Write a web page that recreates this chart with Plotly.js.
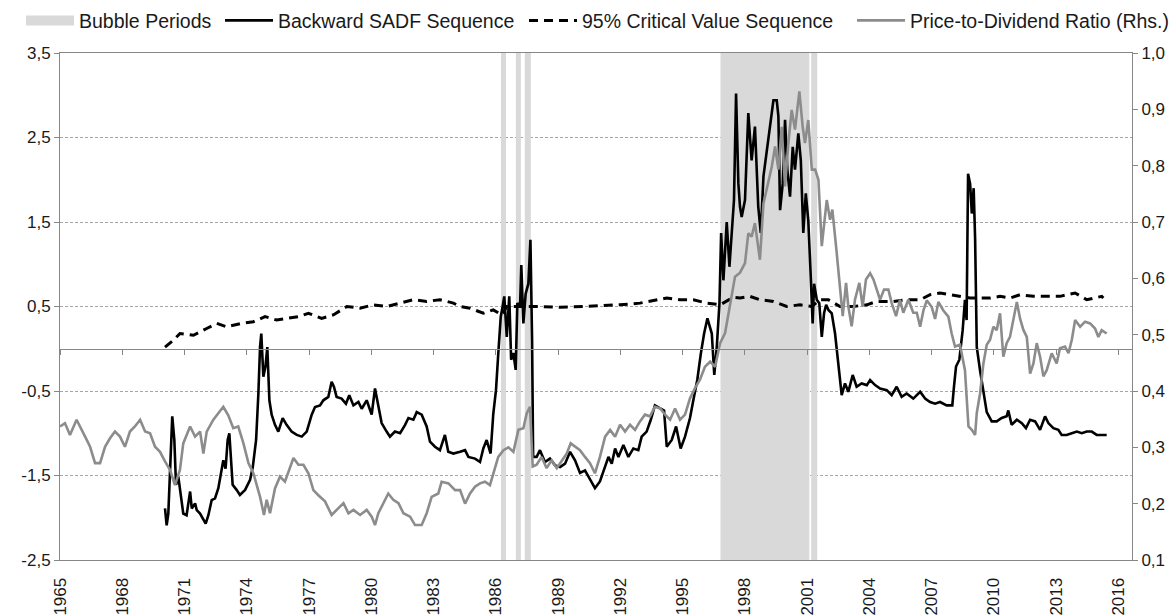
<!DOCTYPE html>
<html><head><meta charset="utf-8">
<script src="https://cdn.plot.ly/plotly-3.0.1.min.js"></script>
<style>html,body{margin:0;padding:0;background:#fff;}</style>
</head><body>
<div id="chart" style="width:1173px;height:616px;"></div>
<script>
// ---- tick labels ----
const yearTicks = [1965,1968,1971,1974,1977,1980,1983,1986,1989,1992,1995,1998,2001,2004,2007,2010,2013,2016];
const yearLabels = ['1965','1968','1971','1974','1977','1980','1983','1986','1989','1992','1995','1998','2001','2004','2007','2010','2013','2016'];
const leftTicks = [-2.5,-1.5,-0.5,0.5,1.5,2.5,3.5];
const leftLabels = ['-2,5','-1,5','-0,5','0,5','1,5','2,5','3,5'];
const rightTicks = [0.1,0.2,0.3,0.4,0.5,0.6,0.7,0.8,0.9,1.0];
const rightLabels = ['0,1','0,2','0,3','0,4','0,5','0,6','0,7','0,8','0,9','1,0'];

// ---- bubble periods (start / end, decimal years) ----
const bubbleStart = [1986.25, 1986.97, 1987.40, 1996.83, 2001.20];
const bubbleEnd   = [1986.49, 1987.21, 1987.69, 2001.11, 2001.49];

// ---- Backward SADF sequence [year, value] ----
const sadf = [[1970.06,-1.89],[1970.14,-2.09],[1970.22,-1.95],[1970.30,-1.47],[1970.41,-0.80],[1970.51,-1.08],[1970.59,-1.61],[1970.70,-1.51],[1970.82,-1.75],[1970.94,-1.95],[1971.10,-1.97],[1971.27,-1.69],[1971.35,-1.89],[1971.51,-1.83],[1971.59,-1.91],[1971.75,-1.95],[1972.02,-2.07],[1972.15,-1.97],[1972.31,-1.79],[1972.47,-1.77],[1972.63,-1.65],[1972.87,-1.32],[1972.98,-1.42],[1973.08,-1.08],[1973.16,-1.00],[1973.24,-1.32],[1973.32,-1.61],[1973.51,-1.67],[1973.67,-1.73],[1973.92,-1.67],[1974.16,-1.55],[1974.29,-1.40],[1974.45,-1.08],[1974.56,-0.53],[1974.64,0.02],[1974.70,0.18],[1974.80,-0.33],[1974.90,-0.21],[1974.99,0.02],[1975.09,-0.61],[1975.20,-0.78],[1975.36,-0.90],[1975.52,-0.98],[1975.73,-0.82],[1975.92,-0.90],[1976.16,-0.98],[1976.41,-1.02],[1976.65,-1.04],[1976.89,-0.98],[1977.13,-0.78],[1977.29,-0.69],[1977.53,-0.67],[1977.69,-0.61],[1977.93,-0.57],[1978.09,-0.39],[1978.20,-0.45],[1978.33,-0.57],[1978.57,-0.59],[1978.78,-0.65],[1978.94,-0.55],[1979.14,-0.67],[1979.38,-0.63],[1979.54,-0.71],[1979.78,-0.61],[1980.02,-0.78],[1980.18,-0.47],[1980.34,-0.69],[1980.50,-0.88],[1980.74,-0.98],[1980.90,-1.04],[1981.14,-0.98],[1981.39,-1.00],[1981.63,-0.90],[1981.79,-0.82],[1982.03,-0.84],[1982.19,-0.75],[1982.43,-0.78],[1982.67,-0.92],[1982.83,-1.10],[1983.07,-1.16],[1983.31,-1.20],[1983.55,-1.02],[1983.71,-1.22],[1983.96,-1.24],[1984.28,-1.22],[1984.52,-1.20],[1984.68,-1.28],[1985.00,-1.30],[1985.24,-1.34],[1985.40,-1.18],[1985.56,-1.08],[1985.75,-1.24],[1985.88,-0.77],[1986.01,-0.49],[1986.12,-0.06],[1986.24,0.38],[1986.33,0.50],[1986.41,0.62],[1986.53,0.14],[1986.65,0.62],[1986.74,-0.13],[1986.85,-0.05],[1986.96,-0.25],[1987.04,0.54],[1987.17,0.50],[1987.23,0.99],[1987.33,0.30],[1987.44,0.65],[1987.57,0.77],[1987.67,1.29],[1987.75,0.10],[1987.80,-1.28],[1987.97,-1.28],[1988.13,-1.20],[1988.37,-1.34],[1988.61,-1.30],[1988.86,-1.38],[1989.10,-1.40],[1989.34,-1.36],[1989.58,-1.22],[1989.82,-1.32],[1990.06,-1.47],[1990.30,-1.44],[1990.54,-1.55],[1990.78,-1.65],[1991.02,-1.57],[1991.27,-1.40],[1991.43,-1.28],[1991.59,-1.36],[1991.75,-1.18],[1991.91,-1.28],[1992.15,-1.14],[1992.39,-1.28],[1992.63,-1.18],[1992.87,-1.20],[1993.03,-1.04],[1993.27,-0.98],[1993.47,-0.84],[1993.67,-0.67],[1993.92,-0.71],[1994.11,-0.73],[1994.24,-1.16],[1994.48,-1.08],[1994.69,-0.92],[1994.91,-1.18],[1995.12,-1.04],[1995.36,-0.82],[1995.52,-0.61],[1995.71,-0.37],[1995.88,-0.06],[1996.04,0.18],[1996.20,0.36],[1996.41,0.18],[1996.53,-0.31],[1996.65,0.02],[1996.78,0.54],[1996.86,1.37],[1996.97,0.81],[1997.13,1.50],[1997.26,0.97],[1997.37,1.41],[1997.48,1.76],[1997.58,3.02],[1997.69,1.96],[1997.77,1.68],[1997.85,1.56],[1998.01,1.76],[1998.17,2.79],[1998.33,2.23],[1998.49,2.63],[1998.65,1.68],[1998.77,1.37],[1998.90,2.04],[1999.06,2.35],[1999.22,2.63],[1999.38,2.94],[1999.54,2.94],[1999.62,2.75],[1999.70,1.64],[1999.83,1.96],[1999.94,2.71],[2000.05,2.12],[2000.18,1.80],[2000.31,2.39],[2000.42,2.12],[2000.58,2.55],[2000.70,2.23],[2000.82,1.37],[2000.94,1.84],[2001.06,1.52],[2001.18,0.85],[2001.27,0.30],[2001.34,0.77],[2001.47,0.58],[2001.59,0.54],[2001.71,0.14],[2001.82,0.42],[2001.92,0.52],[2002.03,0.46],[2002.19,0.42],[2002.35,0.18],[2002.51,-0.21],[2002.67,-0.55],[2002.83,-0.41],[2002.99,-0.51],[2003.20,-0.31],[2003.39,-0.45],[2003.63,-0.41],[2003.88,-0.43],[2004.04,-0.37],[2004.28,-0.43],[2004.52,-0.47],[2004.84,-0.49],[2005.08,-0.55],[2005.32,-0.45],[2005.56,-0.57],[2005.80,-0.53],[2006.12,-0.59],[2006.45,-0.51],[2006.69,-0.59],[2006.93,-0.63],[2007.17,-0.65],[2007.41,-0.63],[2007.73,-0.67],[2008.00,-0.67],[2008.08,-0.45],[2008.18,-0.21],[2008.34,-0.13],[2008.50,0.22],[2008.61,0.58],[2008.69,0.34],[2008.76,2.07],[2008.86,1.95],[2008.94,1.60],[2009.03,1.90],[2009.10,1.30],[2009.18,0.02],[2009.34,-0.26],[2009.50,-0.49],[2009.66,-0.75],[2009.90,-0.86],[2010.14,-0.86],[2010.38,-0.82],[2010.62,-0.80],[2010.70,-0.73],[2010.86,-0.90],[2011.11,-0.84],[2011.35,-0.88],[2011.55,-0.94],[2011.75,-0.84],[2011.99,-0.86],[2012.23,-0.96],[2012.47,-0.80],[2012.63,-0.88],[2012.87,-0.94],[2013.11,-0.96],[2013.27,-1.02],[2013.51,-1.02],[2013.76,-1.00],[2014.00,-0.98],[2014.24,-1.00],[2014.48,-0.98],[2014.72,-0.98],[2014.96,-1.02],[2015.20,-1.02],[2015.44,-1.02]];

// ---- 95% critical value sequence [year, value] ----
const critical = [[1970.06,0.02],[1970.46,0.10],[1970.78,0.18],[1971.43,0.16],[1972.07,0.24],[1972.55,0.30],[1973.03,0.26],[1973.76,0.30],[1974.32,0.32],[1974.88,0.38],[1975.44,0.34],[1975.92,0.36],[1976.49,0.38],[1976.97,0.42],[1977.61,0.36],[1978.17,0.40],[1978.82,0.50],[1979.46,0.48],[1980.10,0.52],[1980.74,0.50],[1981.39,0.54],[1982.03,0.58],[1982.67,0.56],[1983.31,0.58],[1983.96,0.54],[1984.28,0.50],[1984.76,0.48],[1985.40,0.42],[1985.88,0.46],[1986.29,0.40],[1986.53,0.50],[1987.49,0.50],[1988.13,0.50],[1989.10,0.49],[1990.06,0.50],[1991.02,0.51],[1991.99,0.52],[1992.95,0.54],[1993.59,0.57],[1994.24,0.60],[1994.88,0.58],[1995.52,0.58],[1996.17,0.54],[1996.81,0.52],[1997.45,0.61],[1997.77,0.60],[1998.25,0.62],[1998.73,0.58],[1999.38,0.56],[2000.02,0.50],[2000.66,0.52],[2001.23,0.50],[2001.63,0.58],[2002.03,0.58],[2002.59,0.50],[2003.23,0.50],[2003.88,0.52],[2004.36,0.56],[2005.16,0.56],[2005.80,0.58],[2006.45,0.58],[2006.93,0.64],[2007.41,0.66],[2007.89,0.64],[2008.37,0.62],[2008.86,0.60],[2009.34,0.60],[2009.82,0.60],[2010.30,0.62],[2010.78,0.60],[2011.27,0.64],[2011.91,0.62],[2012.55,0.62],[2013.19,0.62],[2013.92,0.66],[2014.48,0.58],[2015.20,0.62],[2015.28,0.60]];

// ---- Price-to-dividend ratio (right axis) [year, value] ----
const pdRatio = [[1965.00,0.337],[1965.24,0.343],[1965.48,0.322],[1965.80,0.349],[1966.21,0.319],[1966.45,0.301],[1966.69,0.272],[1966.93,0.272],[1967.17,0.301],[1967.41,0.316],[1967.65,0.328],[1967.89,0.319],[1968.13,0.301],[1968.37,0.328],[1968.61,0.337],[1968.86,0.349],[1969.10,0.328],[1969.34,0.325],[1969.58,0.301],[1969.82,0.292],[1970.06,0.275],[1970.30,0.260],[1970.54,0.233],[1970.78,0.260],[1970.94,0.307],[1971.27,0.337],[1971.51,0.319],[1971.75,0.328],[1971.91,0.289],[1972.07,0.328],[1972.39,0.349],[1972.63,0.360],[1972.87,0.372],[1973.11,0.357],[1973.35,0.334],[1973.59,0.337],[1973.84,0.307],[1974.08,0.272],[1974.32,0.254],[1974.64,0.212],[1974.83,0.180],[1974.96,0.207],[1975.12,0.183],[1975.36,0.227],[1975.60,0.248],[1975.84,0.239],[1976.08,0.266],[1976.25,0.281],[1976.49,0.269],[1976.73,0.269],[1976.97,0.254],[1977.21,0.224],[1977.45,0.215],[1977.77,0.204],[1978.09,0.180],[1978.33,0.189],[1978.66,0.201],[1978.90,0.183],[1979.14,0.189],[1979.46,0.180],[1979.78,0.189],[1980.02,0.177],[1980.18,0.162],[1980.34,0.183],[1980.58,0.201],[1980.82,0.218],[1981.06,0.207],[1981.31,0.201],[1981.55,0.183],[1981.87,0.177],[1982.11,0.162],[1982.43,0.162],[1982.67,0.183],[1982.91,0.212],[1983.23,0.218],[1983.39,0.239],[1983.72,0.236],[1984.04,0.224],[1984.28,0.224],[1984.52,0.200],[1984.76,0.218],[1985.00,0.230],[1985.24,0.236],[1985.48,0.239],[1985.72,0.233],[1985.88,0.254],[1986.12,0.283],[1986.37,0.295],[1986.61,0.300],[1986.85,0.292],[1987.09,0.331],[1987.33,0.334],[1987.49,0.360],[1987.65,0.372],[1987.78,0.266],[1987.97,0.269],[1988.21,0.283],[1988.45,0.263],[1988.69,0.277],[1988.94,0.263],[1989.18,0.275],[1989.42,0.289],[1989.61,0.307],[1989.82,0.301],[1990.06,0.295],[1990.30,0.283],[1990.54,0.272],[1990.78,0.254],[1991.02,0.283],[1991.27,0.319],[1991.51,0.331],[1991.75,0.319],[1991.99,0.340],[1992.23,0.328],[1992.47,0.340],[1992.71,0.331],[1992.95,0.346],[1993.19,0.358],[1993.43,0.355],[1993.67,0.372],[1993.92,0.369],[1994.16,0.358],[1994.40,0.349],[1994.64,0.369],[1994.88,0.349],[1995.12,0.358],[1995.36,0.387],[1995.60,0.405],[1995.84,0.420],[1996.08,0.443],[1996.33,0.452],[1996.57,0.443],[1996.81,0.485],[1997.05,0.503],[1997.29,0.550],[1997.53,0.603],[1997.77,0.610],[1998.01,0.627],[1998.17,0.680],[1998.33,0.674],[1998.49,0.698],[1998.73,0.633],[1998.90,0.733],[1999.14,0.775],[1999.30,0.798],[1999.46,0.834],[1999.62,0.793],[1999.78,0.869],[1999.94,0.763],[2000.10,0.840],[2000.26,0.899],[2000.42,0.864],[2000.63,0.932],[2000.79,0.869],[2000.90,0.840],[2001.06,0.881],[2001.23,0.793],[2001.39,0.793],[2001.55,0.775],[2001.71,0.657],[2001.95,0.739],[2002.11,0.704],[2002.22,0.722],[2002.43,0.645],[2002.59,0.580],[2002.72,0.533],[2002.88,0.592],[2002.99,0.550],[2003.15,0.515],[2003.31,0.562],[2003.52,0.592],[2003.68,0.550],[2003.84,0.598],[2004.04,0.609],[2004.20,0.598],[2004.36,0.580],[2004.52,0.562],[2004.71,0.580],[2004.92,0.580],[2005.08,0.556],[2005.29,0.533],[2005.48,0.562],[2005.64,0.539],[2005.88,0.562],[2006.12,0.539],[2006.29,0.539],[2006.45,0.514],[2006.61,0.543],[2006.77,0.561],[2007.01,0.549],[2007.17,0.528],[2007.33,0.558],[2007.57,0.543],[2007.81,0.532],[2007.97,0.502],[2008.13,0.479],[2008.37,0.482],[2008.61,0.437],[2008.78,0.337],[2008.94,0.331],[2009.10,0.322],[2009.18,0.361],[2009.34,0.396],[2009.50,0.449],[2009.66,0.482],[2009.82,0.491],[2009.98,0.514],[2010.14,0.508],[2010.30,0.538],[2010.46,0.461],[2010.62,0.485],[2010.78,0.496],[2010.94,0.526],[2011.11,0.558],[2011.27,0.528],[2011.43,0.508],[2011.59,0.496],[2011.75,0.431],[2011.91,0.449],[2012.07,0.485],[2012.23,0.461],[2012.39,0.426],[2012.55,0.437],[2012.79,0.467],[2013.03,0.449],[2013.19,0.476],[2013.43,0.479],[2013.60,0.467],[2013.76,0.491],[2013.92,0.526],[2014.16,0.514],[2014.40,0.523],[2014.64,0.520],[2014.88,0.511],[2015.04,0.496],[2015.20,0.508],[2015.44,0.502]];

const yMin = leftTicks[0], yMax = leftTicks[leftTicks.length-1];
const xRange = [1965, 2016.66];

const bandX = [], bandY = [];
bubbleStart.forEach((s, i) => {
  const e = bubbleEnd[i];
  bandX.push(s, e, e, s, s, null);
  bandY.push(yMin, yMin, yMax, yMax, yMin, null);
});

const GRAY_BAND = '#d9d9d9';
const AXIS = '#878787';

const traces = [
  {x: bandX, y: bandY, type: 'scatter', mode: 'lines', fill: 'toself', fillcolor: GRAY_BAND,
   line: {width: 0, color: GRAY_BAND}, showlegend: false, hoverinfo: 'skip'},
  {x: [null], y: [null], type: 'scatter', mode: 'lines', name: 'Bubble Periods',
   line: {color: GRAY_BAND, width: 10}, legend: 'legend'},
  {x: sadf.map(p => p[0]), y: sadf.map(p => p[1]), type: 'scatter', mode: 'lines',
   name: 'Backward SADF Sequence', line: {color: '#000', width: 2.6}, legend: 'legend2'},
  {x: critical.map(p => p[0]), y: critical.map(p => p[1]), type: 'scatter', mode: 'lines',
   name: '95% Critical Value Sequence', line: {color: '#000', width: 3, dash: '9px,6px'}, legend: 'legend3'},
  {x: pdRatio.map(p => p[0]), y: pdRatio.map(p => p[1]), type: 'scatter', mode: 'lines',
   name: 'Price-to-Dividend Ratio (Rhs.)', yaxis: 'y2', line: {color: '#8c8c8c', width: 2.6}, legend: 'legend4'},
  // carrier for the horizontal axis drawn through zero
  {x: [null], y: [null], type: 'scatter', mode: 'lines', xaxis: 'x2', showlegend: false, hoverinfo: 'skip'}
];

function legendAt(px) {
  return {orientation: 'h', xref: 'container', yref: 'container', x: px / 1173, xanchor: 'left',
          y: 0.998, yanchor: 'top', itemwidth: 48,
          font: {size: 19.5, color: '#1a1a1a'}, bgcolor: 'rgba(0,0,0,0)'};
}

const layout = {
  width: 1173, height: 616,
  margin: {l: 60, r: 41, t: 53, b: 56, pad: 0},
  paper_bgcolor: '#fff', plot_bgcolor: '#fff',
  font: {family: '"Liberation Sans", Arial, sans-serif', size: 17, color: '#1a1a1a'},
  showlegend: true,
  legend: legendAt(21),
  legend2: legendAt(220),
  legend3: legendAt(524),
  legend4: legendAt(852),
  xaxis: {range: xRange, tickvals: yearTicks, ticktext: yearLabels, tickangle: -90,
          ticks: '', showline: true, mirror: true, linecolor: AXIS, linewidth: 1,
          showgrid: false, zeroline: false, ticklabelstandoff: 10, automargin: false},
  xaxis2: {range: xRange, overlaying: 'x', anchor: 'free',
           position: (0 - yMin) / (yMax - yMin), side: 'bottom',
           tickvals: yearTicks, showticklabels: false, ticks: 'outside', ticklen: 5,
           tickcolor: AXIS, showline: true, linecolor: AXIS, linewidth: 1,
           showgrid: false, zeroline: false, layer: 'above traces'},
  yaxis: {range: [yMin, yMax], tickvals: leftTicks, ticktext: leftLabels,
          ticks: 'outside', ticklen: 5, tickcolor: AXIS, showline: true, linecolor: AXIS,
          showgrid: true, gridcolor: '#a6a6a6', griddash: '3px,2px', gridwidth: 1,
          zeroline: false, automargin: false},
  yaxis2: {range: [0.1, 1.0], overlaying: 'y', side: 'right', tickvals: rightTicks,
           ticktext: rightLabels, ticks: 'outside', ticklen: 5, tickcolor: AXIS,
           showline: true, linecolor: AXIS, showgrid: false, zeroline: false, automargin: false}
};

Plotly.newPlot('chart', traces, layout, {displayModeBar: false, staticPlot: true});
</script>
</body></html>
